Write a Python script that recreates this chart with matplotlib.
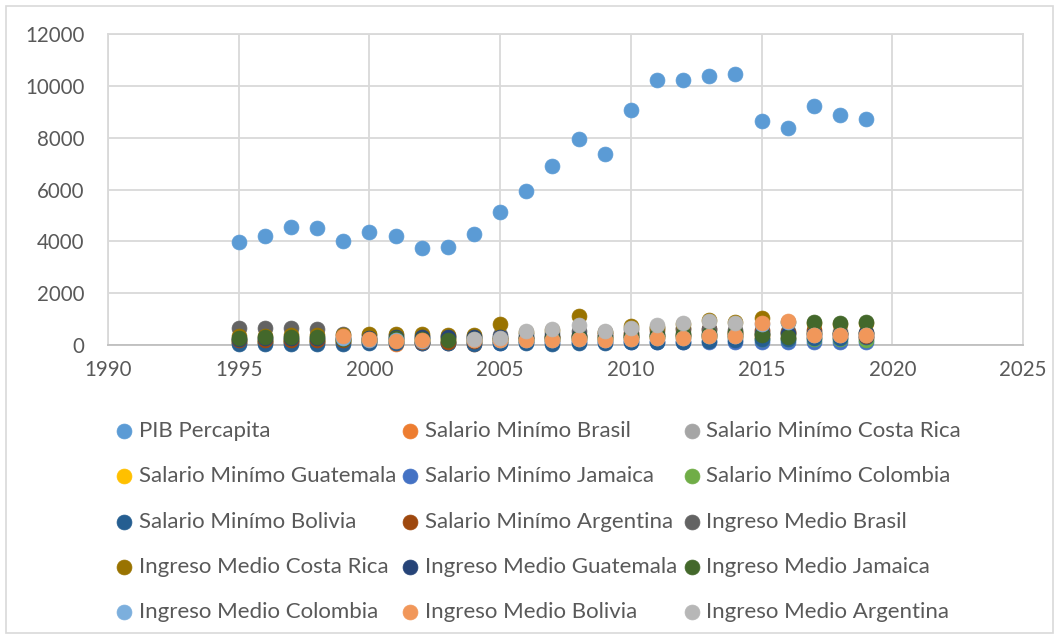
import numpy as np
import matplotlib.pyplot as plt
from matplotlib.patches import Rectangle

nan = np.nan
years = list(range(1995, 2020))

pib = [3980, 4210, 4560, 4520, 4020, 4360, 4210, 3750, 3790, 4290, 5140, 5950, 6910,
       7950, 7380, 9070, 10230, 10230, 10390, 10460, 8650, 8380, 9230, 8880, 8730]
sal_brasil = [100, 110, 110, 110, 100, 110, 30, 70, 80, 20, 120, 150, 190, 230, 230,
              280, 310, 330, 310, 300, 290, 260, 300, 290, 260]
sal_costarica = [220, 230, 230, 240, 250, 260, 270, 270, 270, 270, 280, 290, 310, 340,
                 360, 440, 480, 510, 520, 510, 530, 540, 540, 530, 520]
sal_guatemala = [120, 130, 140, 150, 160, 170, 190, 210, 230, 250, 270, 280, 300, 310,
                 320, 340, 360, 380, 400, 420, 440, 450, 460, 480, 470]
sal_jamaica = [100, 100, 110, 110, 110, 100, 100, 90, 80, 80, 90, 100, 110, 120, 100,
               110, 120, 120, 110, 110, 110, 110, 120, 130, 130]
sal_colombia = [180, 170, 170, 170, 150, 140, 130, 130, 110, 120, 150, 170, 200, 220,
                200, 270, 300, 310, 310, 290, 240, 230, 240, 250, 210]
sal_bolivia = [40, 30, 40, 50, 50, 60, 60, 60, 60, 50, 60, 60, 30, 80, 90, 100, 110,
               130, 150, 200, 240, 250, 260, 280, 290]
sal_argentina = [200, 200, 200, 200, 200, 200, 200, 100, 110, 150, 230, 270, 320, 380,
                 430, 480, 560, 600, 600, 520, 580, 520, 560, 420, 330]
ing_brasil = [650, 650, 650, 630, 420, 400, 380, 350, 330, 340, 380, 430, 480, 540, 520,
              600, 650, 640, 600, 560, 480, 470, 480, 460, 450]
ing_costarica = [350, 360, 380, 380, 400, 420, 420, 420, 400, 400, 820, 500, 580, 1100,
                 500, 720, 700, 820, 950, 900, 1050, 900, 850, 820, 850]
ing_guatemala = [250, 260, 260, 270, 280, 280, 290, 300, 300, 290, 300, 320, 330, 340,
                 330, 350, 370, 380, 390, 400, 410, 420, 430, 440, 450]
ing_jamaica = [280, 290, 300, 290, 250, 250, 260, 240, 200, 220, 230, 240, 260, 300, 280,
               330, 400, 420, 440, 450, 390, 310, 890, 850, 890]
ing_colombia = [nan, nan, nan, nan, 280, 200, 180, 170, nan, 190, 190, 180, 190, 220,
                190, 240, 260, 260, 330, 330, 820, 900, 370, 370, 370]
ing_bolivia = [nan, nan, nan, nan, 330, 230, 170, 190, nan, 200, 200, 190, 200, 230,
               200, 250, 270, 270, 350, 350, 850, 930, 390, 390, 390]
ing_argentina = [nan] * 9 + [250, 270, 540, 620, 770, 540, 650, 770, 850, 930, 850] + [nan] * 5

series = [
    ("PIB Percapita", pib, "#5B9BD5"),
    ("Salario Minímo Brasil", sal_brasil, "#ED7D31"),
    ("Salario Minímo Costa Rica", sal_costarica, "#A5A5A5"),
    ("Salario Minímo Guatemala", sal_guatemala, "#FFC000"),
    ("Salario Minímo Jamaica", sal_jamaica, "#4472C4"),
    ("Salario Minímo Colombia", sal_colombia, "#70AD47"),
    ("Salario Minímo Bolivia", sal_bolivia, "#255E91"),
    ("Salario Minímo Argentina", sal_argentina, "#9E480E"),
    ("Ingreso Medio Brasil", ing_brasil, "#636363"),
    ("Ingreso Medio Costa Rica", ing_costarica, "#997300"),
    ("Ingreso Medio Guatemala", ing_guatemala, "#264478"),
    ("Ingreso Medio Jamaica", ing_jamaica, "#43682B"),
    ("Ingreso Medio Colombia", ing_colombia, "#7CAFDD"),
    ("Ingreso Medio Bolivia", ing_bolivia, "#F1975A"),
    ("Ingreso Medio Argentina", ing_argentina, "#B7B7B7"),
]

plt.rcParams['font.family'] = ['Lato', 'DejaVu Sans']
txt = "#595959"
grid = "#D9D9D9"

fig = plt.figure(figsize=(10.6, 6.39), dpi=100)
ax = fig.add_axes([108 / 1060, 1 - 345 / 639, (1023 - 108) / 1060, (345 - 34) / 639])

handles = []
for name, vals, col in series:
    h = ax.scatter(years, vals, s=115, color=col, edgecolors=col, linewidths=0.5,
                   label=name, zorder=3, clip_on=False)
    handles.append(h)

ax.set_xlim(1990, 2025)
ax.set_ylim(0, 12000)
ax.set_xticks(range(1990, 2026, 5))
ax.set_yticks(range(0, 12001, 2000))
ax.grid(True, color=grid, linewidth=1.3)
ax.set_axisbelow(True)
for sp in ax.spines.values():
    sp.set_color(grid)
    sp.set_linewidth(1.3)
ax.spines['bottom'].set_color("#BFBFBF")
ax.tick_params(length=0, labelsize=14.8, colors=txt)
ax.tick_params(axis='x', pad=11)
ax.tick_params(axis='y', pad=17)

# excel fills the legend row by row
order = [i * 3 + j for j in range(3) for i in range(5)]
leg = fig.legend([handles[k] for k in order], [series[k][0] for k in order],
                 ncol=3, loc='upper left', bbox_to_anchor=(113 / 1060, 1 - 421 / 639),
                 frameon=False, fontsize=16, labelcolor=txt, handletextpad=0.15,
                 columnspacing=0.15, labelspacing=1.14, handlelength=1.0, borderaxespad=0,
                 borderpad=0)

fig.patches.append(Rectangle((6 / 1060, 6 / 639), 1047 / 1060, 627 / 639, fill=False,
                             edgecolor=grid, linewidth=1.2, transform=fig.transFigure))

fig.savefig("out.png", dpi=100)
